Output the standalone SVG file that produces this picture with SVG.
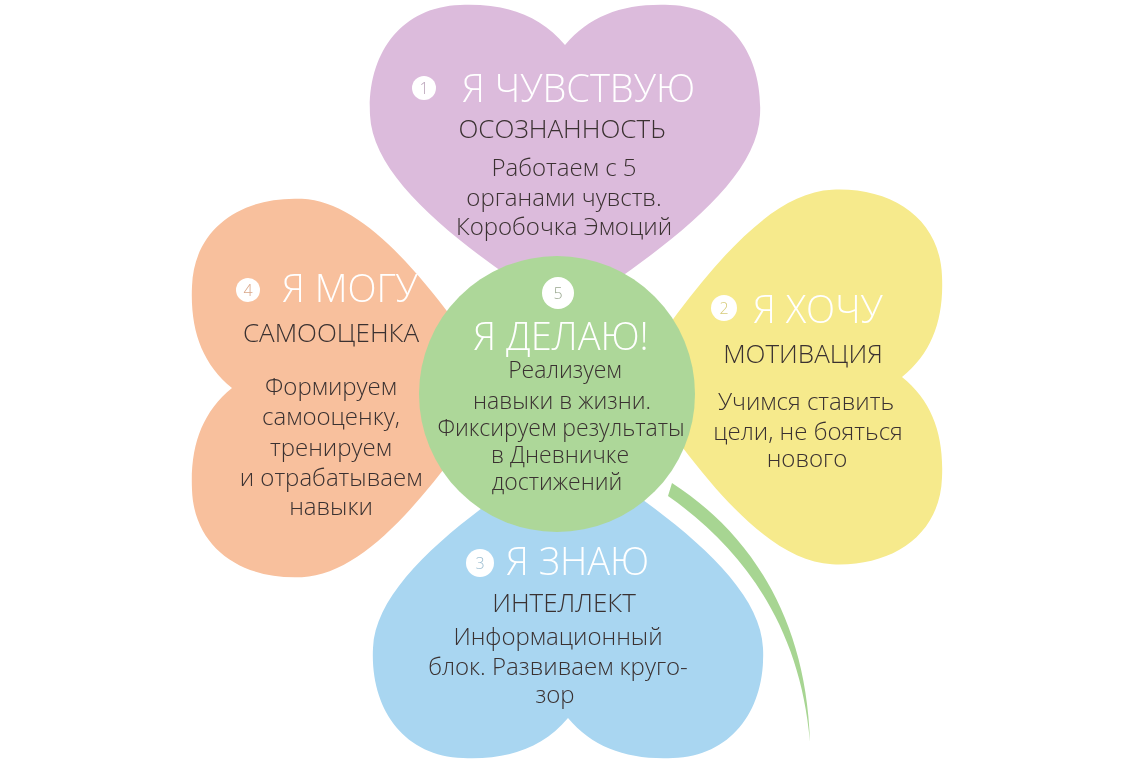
<svg xmlns="http://www.w3.org/2000/svg" xmlns:xlink="http://www.w3.org/1999/xlink" width="1140" height="760" viewBox="0 0 1140 760">
<style>
.t{font-family:"Open Sans","Noto Sans","DejaVu Sans",sans-serif;font-weight:300;fill:#3a3131;text-anchor:middle}
.h{font-family:"Open Sans","Noto Sans","DejaVu Sans",sans-serif;font-weight:300;fill:#ffffff;font-size:38px}
.cap{font-size:26px}
.body{font-size:24px}
.cbody{font-size:23px}
.num{font-family:"Open Sans","Noto Sans","DejaVu Sans",sans-serif;font-weight:300;font-size:16px;text-anchor:middle}
.petal{mix-blend-mode:multiply}
</style>
<defs>
<path id="heart" d="M0,0 C-25,-30 -60,-42 -105,-40 C-165,-38 -198,10 -195,70 C-192,140 -90,210 0,270 C90,210 192,140 195,70 C198,10 165,-38 105,-40 C60,-42 25,-30 0,0 Z"/>
</defs>
<rect width="1140" height="760" fill="#ffffff"/>
<g id="hearts" style="isolation:isolate">
<g id="heart-top"><use xlink:href="#heart" class="petal" fill="#dcbbdc" transform="translate(565,45)"/></g>
<g id="heart-left"><use xlink:href="#heart" class="petal" fill="#f8c09d" transform="translate(232,388) rotate(-90) scale(0.97,1)"/></g>
<g id="heart-right"><use xlink:href="#heart" class="petal" fill="#f6ea8c" transform="translate(902,377) rotate(90) scale(0.96,1)"/></g>
<g id="heart-bottom"><use xlink:href="#heart" class="petal" fill="#a9d6f1" transform="translate(568,718) rotate(180)"/></g>
</g>
<g id="connectors">
<path id="stem" d="M672,483 C745,530 806,612 810,742 C800,625 742,548 668,496 Z" fill="#a7d592"/>
</g>
<g id="center">
<circle cx="557" cy="394" r="138" fill="#add799"/>
<circle cx="558" cy="293" r="16" fill="#ffffff"/>
<text class="num" x="558" y="299" fill="#9aa890">5</text>
<text class="h" x="561" y="350" text-anchor="middle">Я ДЕЛАЮ!</text>
<text class="t cbody" x="565" y="378">Реализуем</text>
<text class="t cbody" x="562" y="409">навыки в жизни.</text>
<text class="t cbody" x="561" y="436">Фиксируем результаты</text>
<text class="t cbody" x="560" y="463">в Дневничке</text>
<text class="t cbody" x="557" y="490">достижений</text>
</g>
<g id="node1">
<circle cx="424" cy="88" r="12" fill="#ffffff"/>
<text class="num" x="424" y="94" fill="#b79fb6">1</text>
<text class="h" x="462" y="102">Я ЧУВСТВУЮ</text>
<text class="t cap" x="562" y="138">ОСОЗНАННОСТЬ</text>
<text class="t body" x="564" y="176">Работаем с 5</text>
<text class="t body" x="564" y="206">органами чувств.</text>
<text class="t body" x="564" y="235">Коробочка Эмоций</text>
</g>
<g id="node2">
<circle cx="724" cy="308" r="13" fill="#ffffff"/>
<text class="num" x="724" y="314" fill="#d6cb7a">2</text>
<text class="h" x="753" y="323">Я ХОЧУ</text>
<text class="t cap" x="803" y="363">МОТИВАЦИЯ</text>
<text class="t body" x="806" y="410">Учимся ставить</text>
<text class="t body" x="808" y="440">цели, не бояться</text>
<text class="t body" x="807" y="467">нового</text>
</g>
<g id="node3">
<circle cx="480" cy="563" r="14" fill="#ffffff"/>
<text class="num" x="480" y="569" fill="#9cbdd0">3</text>
<text class="h" x="506" y="575">Я ЗНАЮ</text>
<text class="t cap" x="564" y="612">ИНТЕЛЛЕКТ</text>
<text class="t body" x="558" y="645">Информационный</text>
<text class="t body" x="558" y="675">блок. Развиваем круго-</text>
<text class="t body" x="555" y="703">зор</text>
</g>
<g id="node4">
<circle cx="248" cy="290" r="12" fill="#ffffff"/>
<text class="num" x="248" y="296" fill="#d9a688">4</text>
<text class="h" x="282" y="302">Я МОГУ</text>
<text class="t cap" x="331" y="342">САМООЦЕНКА</text>
<text class="t body" x="331" y="395">Формируем</text>
<text class="t body" x="331" y="425">самооценку,</text>
<text class="t body" x="331" y="456">тренируем</text>
<text class="t body" x="331" y="486">и отрабатываем</text>
<text class="t body" x="331" y="515">навыки</text>
</g>
</svg>
